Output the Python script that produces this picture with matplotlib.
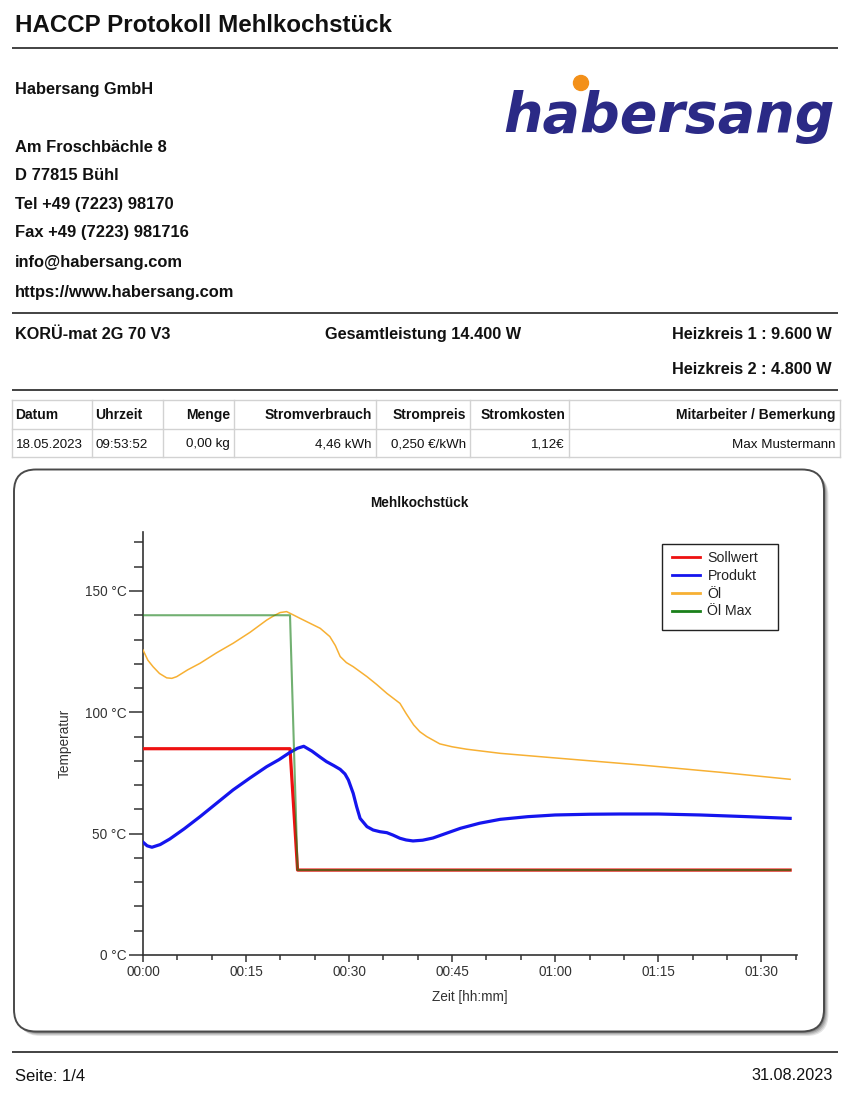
import matplotlib
matplotlib.use("Agg")
import matplotlib.pyplot as plt
from matplotlib.patches import FancyBboxPatch, Circle, Rectangle
from matplotlib.ticker import MultipleLocator, FuncFormatter, FixedLocator

plt.rcParams['font.family'] = ['Liberation Sans', 'DejaVu Sans']

# ---------------- data ----------------
series_names = ["Sollwert", "Produkt", "Öl", "Öl Max"]

t_soll = [0, 21.4, 22.5, 94.2]
soll = [85, 85, 35, 35]

t_oelmax = [0, 21.4, 22.5, 94.2]
oelmax = [140, 140, 35, 35]

t_prod = [0, 0.6, 1.3, 2.5, 3.9, 6.0, 8.3, 10.7, 13.1, 15.6, 18.0, 19.8, 21.4,
          22.5, 23.4, 24.6, 25.8, 26.7, 27.8, 28.7, 29.4, 29.9, 30.6, 31.1,
          31.6, 32.6, 33.5, 34.5, 35.5, 36.4, 37.4, 38.3, 39.3, 40.7, 42.2,
          44.0, 46.2, 49.0, 52.0, 56.0, 60.0, 65.0, 69.5, 75.0, 81.1, 88.0, 94.2]
prod = [46.5, 45.0, 44.4, 45.5, 47.8, 52.0, 57.0, 62.5, 68.0, 73.0, 77.6, 80.5, 83.5,
        85.2, 86.0, 84.0, 81.5, 79.7, 78.0, 76.5, 74.6, 72.1, 66.6, 61.1,
        56.3, 52.9, 51.5, 50.8, 50.4, 49.4, 48.1, 47.4, 47.0, 47.3, 48.2,
        50.0, 52.2, 54.3, 55.9, 57.0, 57.7, 58.0, 58.1, 58.1, 57.7, 57.0, 56.3]

t_oel = [0, 0.7, 1.46, 2.4, 3.45, 4.2, 4.91, 6.5, 8.3, 10.7, 13.15, 15.6, 18.0,
         19.0, 19.95, 20.9, 21.9, 22.8, 23.8, 25.8, 27.2, 28.0, 28.7, 29.6, 30.6,
         32.6, 34.0, 35.5, 37.4, 38.3, 39.4, 40.3, 41.3, 43.2, 45.0, 47.1, 52.0,
         60.0, 72.4, 84.0, 94.2]
oel = [125.7, 121.5, 118.8, 116.0, 114.2, 114.0, 114.7, 117.5, 120.2, 124.5, 128.5, 133.0, 138.0,
       139.7, 141.1, 141.5, 140.1, 138.8, 137.4, 134.6, 131.2, 127.5, 123.0, 120.5, 118.8,
       114.7, 111.5, 107.8, 103.7, 99.5, 94.8, 92.0, 90.0, 87.0, 85.8, 84.8, 83.1,
       81.2, 78.3, 75.3, 72.4]

y_major = [0, 50, 100, 150]
y_labels = ["0 °C", "50 °C", "100 °C", "150 °C"]

table_header = ["Datum", "Uhrzeit", "Menge", "Stromverbrauch", "Strompreis",
                "Stromkosten", "Mitarbeiter / Bemerkung"]
table_row = ["18.05.2023", "09:53:52", "0,00 kg", "4,46 kWh", "0,250 €/kWh",
             "1,12€", "Max Mustermann"]

address_lines = ["Am Froschbächle 8", "D 77815 Bühl", "Tel +49 (7223) 98170",
                 "Fax +49 (7223) 981716", "info@habersang.com",
                 "https://www.habersang.com"]

# ---------------- figure ----------------
W, H = 853, 1101
fig = plt.figure(figsize=(W / 100, H / 100), dpi=100)
fig.patch.set_facecolor("white")

page = fig.add_axes([0, 0, 1, 1])
page.set_xlim(0, W)
page.set_ylim(H, 0)
page.axis("off")

# title + rules
page.text(15, 32.3, "HACCP Protokoll Mehlkochstück", fontsize=17.4, fontweight="bold",
          ha="left", va="baseline", color="#111111")
for yy in (48, 313, 390, 1052):
    page.plot([12, 838], [yy, yy], color="#222222", lw=1.2, solid_capstyle="butt")

# address block
page.text(15, 94.3, "Habersang GmbH", fontsize=11.8, fontweight="bold", ha="left",
          va="baseline", color="#111111")
addr_y = [151.5, 179.5, 208.5, 237.5, 266.5, 296.5]
for yy, s in zip(addr_y, address_lines):
    page.text(15, yy, s, fontsize=11.9, fontweight="bold", ha="left", va="baseline",
              color="#111111")

# logo
page.text(503, 131.7, "habersang", fontsize=40, fontweight="bold", fontstyle="italic",
          family="DejaVu Sans", ha="left", va="baseline", color="#2b2a86")
page.add_patch(Circle((581, 83), 7.5, color="#f39019", zorder=5))

# machine line
page.text(15, 339, "KORÜ-mat 2G 70 V3", fontsize=11.7, fontweight="bold", ha="left",
          va="baseline", color="#111111")
page.text(423.5, 339, "Gesamtleistung 14.400 W", fontsize=11.7, fontweight="bold",
          ha="center", va="baseline", color="#111111")
page.text(832, 339, "Heizkreis 1 : 9.600 W", fontsize=11.7, fontweight="bold",
          ha="right", va="baseline", color="#111111")
page.text(832, 374, "Heizkreis 2 : 4.800 W", fontsize=11.7, fontweight="bold",
          ha="right", va="baseline", color="#111111")

# table
col_x = [12, 92, 163, 234, 376, 470, 569, 840]
row_y = [400, 428.5, 457]
gc = "#d2d2d2"
for yy in row_y:
    page.plot([col_x[0], col_x[-1]], [yy, yy], color=gc, lw=1.0)
for xx in col_x:
    page.plot([xx, xx], [row_y[0], row_y[-1]], color=gc, lw=1.0)
aligns = ["left", "left", "right", "right", "right", "right", "right"]
for i, (h, d) in enumerate(zip(table_header, table_row)):
    if aligns[i] == "left":
        xx = col_x[i] + 3.5
    else:
        xx = col_x[i + 1] - 4
    page.text(xx, 419, h, fontsize=10, fontweight="bold", ha=aligns[i], va="baseline",
              color="#111111")
    page.text(xx, 447.5, d, fontsize=9.6, ha=aligns[i], va="baseline", color="#111111")

# chart frame with shadow
for k, a in enumerate([0.10, 0.12, 0.15, 0.2]):
    off = 4.5 - k
    page.add_patch(FancyBboxPatch((14 + off, 469.5 + off), 810, 562,
                                  boxstyle="round,pad=0,rounding_size=22",
                                  facecolor="#000000", edgecolor="none", alpha=a))
page.add_patch(FancyBboxPatch((14, 469.5), 810, 562,
                              boxstyle="round,pad=0,rounding_size=22",
                              facecolor="white", edgecolor="#4a4a4a", lw=1.4))
page.text(419, 503, "Mehlkochstück", fontsize=9.8, fontweight="bold", ha="center",
          va="center", color="#111111")

# legend frame
page.add_patch(Rectangle((662, 544), 116, 86, facecolor="white", edgecolor="#222222",
                         lw=1.0, zorder=1))

# footer
page.text(15, 1081, "Seite: 1/4", fontsize=12, ha="left", va="baseline", color="#111111")
page.text(833, 1080, "31.08.2023", fontsize=11.7, ha="right", va="baseline", color="#111111")

# ---------------- chart ----------------
ax = fig.add_axes([143 / W, 1 - 955 / H, (797 - 143) / W, (955 - 532) / H])
ax.patch.set_alpha(0)
ax.set_xlim(0, 95.2)
ax.set_ylim(0, 174.3)

ax.plot(t_soll, soll, color="#ee1111", lw=2.3, label=series_names[0], zorder=3)
ax.plot(t_prod, prod, color="#1515ee", lw=2.3, label=series_names[1], zorder=4)
ax.plot(t_oel, oel, color="#f7b033", lw=1.1, label=series_names[2], zorder=4)
ax.plot(t_oelmax, oelmax, color="#1a801a", lw=1.5, alpha=0.62, label=series_names[3], zorder=5)

for s in ("top", "right"):
    ax.spines[s].set_visible(False)
for s in ("left", "bottom"):
    ax.spines[s].set_color("#333333")
    ax.spines[s].set_linewidth(1.2)

ax.yaxis.set_major_locator(FixedLocator(y_major))
ax.set_yticklabels(y_labels)
ax.yaxis.set_minor_locator(MultipleLocator(10))
ax.xaxis.set_major_locator(MultipleLocator(15))
ax.xaxis.set_minor_locator(MultipleLocator(5))
ax.xaxis.set_major_formatter(FuncFormatter(lambda m, p: f"{int(m // 60):02d}:{int(round(m % 60)):02d}"))

ax.tick_params(axis="y", which="major", length=10, width=1.1, color="#333333",
               labelsize=9.8, labelcolor="#333333", pad=2)
ax.tick_params(axis="y", which="minor", length=6.5, width=1.1, color="#333333")
ax.tick_params(axis="x", which="major", length=5, width=1.1, color="#333333",
               labelsize=9.8, labelcolor="#333333", pad=2)
ax.tick_params(axis="x", which="minor", length=3.5, width=1.1, color="#333333")

ax.set_xlabel("Zeit [hh:mm]", fontsize=9.8, color="#333333", labelpad=8)
ax.set_ylabel("Temperatur", fontsize=9.8, color="#333333", labelpad=9)

leg = ax.legend(loc="upper left", bbox_to_anchor=((672 - 143) / 654, (955 - 551) / 423),
                fontsize=10.2, frameon=False, handlelength=2.0, handletextpad=0.5,
                labelspacing=0.27, borderpad=0, borderaxespad=0)
for line in leg.get_lines():
    line.set_linewidth(2.0)
    line.set_alpha(1)
for txt in leg.get_texts():
    txt.set_color("#222222")

fig.savefig("out.png", dpi=100, facecolor="white")
